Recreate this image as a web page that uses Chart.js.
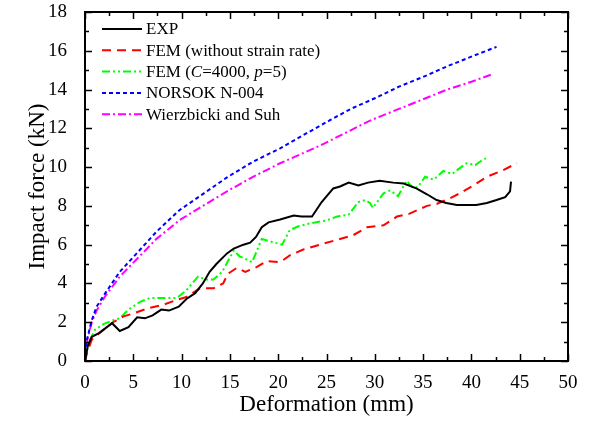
<!DOCTYPE html>
<html>
<head>
<meta charset="utf-8">
<script src="https://cdn.jsdelivr.net/npm/chart.js@4/dist/chart.umd.min.js"></script>
<style>
  html, body { margin: 0; padding: 0; background: #fff; }
  #wrap { width: 595px; height: 424px; }
</style>
</head>
<body>
<div id="wrap"><canvas id="chart"></canvas></div>
<script>
// values (deformation in mm, force in kN)
const expX = [0, 0.3, 0.7, 1.5, 2.8, 3.6, 4.5, 5.4, 6.2, 7.0, 7.9, 8.7, 9.7, 10.5, 11.4, 12.2, 12.9, 13.6, 14.7, 15.4, 16.4, 17.1, 17.7, 18.3, 19.0, 20.2, 21.6, 22.4, 23.5, 24.5, 25.7, 26.4, 27.3, 28.3, 29.3, 30.5, 31.9, 33.0, 34.3, 35.4, 36.4, 37.4, 38.5, 39.5, 40.5, 41.6, 42.6, 43.5, 44.0, 44.1];
const expY = [0, 0.8, 1.25, 1.45, 1.95, 1.55, 1.75, 2.25, 2.2, 2.35, 2.65, 2.6, 2.8, 3.2, 3.5, 4.0, 4.6, 5.0, 5.55, 5.8, 6.0, 6.1, 6.4, 6.9, 7.15, 7.3, 7.5, 7.45, 7.45, 8.2, 8.9, 9.0, 9.2, 9.05, 9.2, 9.3, 9.2, 9.15, 8.9, 8.6, 8.3, 8.15, 8.05, 8.05, 8.05, 8.15, 8.3, 8.45, 8.75, 9.25];

const femX = [0, 0.2, 0.7, 1.5, 2.9, 4.0, 5.0, 6.4, 8.1, 9.5, 10.5, 11.9, 13.3, 14.3, 14.8, 15.7, 16.6, 17.8, 18.8, 20.0, 20.5, 21.2, 22.6, 24.3, 26.1, 27.8, 29.2, 30.9, 32.3, 33.6, 35.4, 36.4, 37.8, 38.8, 40.2, 41.6, 43.3, 44.7];
const femY = [0, 0.4, 1.1, 1.45, 2.0, 2.3, 2.45, 2.7, 2.9, 3.15, 3.3, 3.75, 3.75, 4.0, 4.5, 4.8, 4.6, 4.85, 5.15, 5.1, 5.2, 5.45, 5.75, 6.0, 6.25, 6.5, 6.9, 7.0, 7.45, 7.6, 8.0, 8.1, 8.4, 8.65, 9.05, 9.5, 9.85, 10.2];

const femRateX = [0, 0.35, 1.0, 1.9, 2.9, 3.6, 4.5, 5.7, 6.7, 8.1, 9.5, 10.5, 11.7, 12.6, 13.3, 14.2, 15.4, 16.0, 17.3, 18.3, 19.3, 20.4, 21.2, 22.1, 23.3, 25.0, 26.1, 27.3, 28.3, 29.0, 29.5, 29.8, 30.9, 31.6, 32.4, 33.3, 34.0, 34.5, 35.2, 36.1, 37.1, 38.0, 38.8, 39.5, 40.4, 41.1, 41.5];
const femRateY = [0, 0.9, 1.6, 1.9, 2.1, 2.2, 2.65, 3.05, 3.25, 3.25, 3.25, 3.65, 4.35, 4.2, 4.2, 4.6, 5.7, 5.4, 5.1, 6.3, 6.15, 6.0, 6.75, 6.95, 7.1, 7.25, 7.45, 7.55, 8.2, 8.3, 8.15, 7.9, 8.65, 8.8, 8.5, 9.3, 8.9, 9.0, 9.5, 9.35, 9.8, 9.65, 9.95, 10.2, 10.1, 10.35, 10.45];

const norsokX = [0, 0.2, 0.7, 1.2, 2.1, 3.6, 5.35, 7.4, 9.8, 12.2, 14.7, 17.4, 20.2, 22.6, 25.4, 27.5, 30, 32.5, 35, 37.5, 40, 42.6];
const norsokY = [0, 1.1, 2.1, 2.8, 3.5, 4.6, 5.55, 6.67, 7.79, 8.61, 9.47, 10.28, 10.97, 11.65, 12.43, 13.0, 13.55, 14.15, 14.65, 15.2, 15.7, 16.2];

const wsX = [0, 0.2, 0.7, 1.2, 2.1, 3.6, 5.35, 7.4, 9.8, 12.2, 14.7, 17.4, 20.2, 24.3, 27.5, 29.5, 32.5, 35, 37.5, 40, 42.2];
const wsY = [0, 1.0, 2.0, 2.6, 3.35, 4.35, 5.25, 6.3, 7.27, 8.0, 8.75, 9.5, 10.2, 11.1, 11.9, 12.4, 13.0, 13.5, 14.0, 14.4, 14.8];

const xTicks = { min: 0, max: 50, major: 5, minor: 2.5 };
const yTicks = { min: 0, max: 18, major: 2, minor: 1 };

const SERIF = '"Liberation Serif", "Times New Roman", serif';

const pts = (xs, ys) => xs.map((x, i) => ({ x, y: ys[i] }));

const series = [
  { label: [['EXP', false]], xs: expX, ys: expY, color: '#000000', dash: [] },
  { label: [['FEM (without strain rate)', false]], xs: femX, ys: femY, color: '#ff0000', dash: [9, 6] },
  { label: [['FEM (', false], ['C', true], ['=4000, ', false], ['p', true], ['=5)', false]],
    xs: femRateX, ys: femRateY, color: '#00ff00', dash: [8, 3, 2, 3, 2, 3] },
  { label: [['NORSOK N-004', false]], xs: norsokX, ys: norsokY, color: '#0000ff', dash: [4, 3] },
  { label: [['Wierzbicki and Suh', false]], xs: wsX, ys: wsY, color: '#ff00ff', dash: [8, 3, 2, 3] }
];

// frame, inward ticks on all four sides, and the legend
const framePlugin = {
  id: 'frame',
  afterDatasetsDraw(chart) {
    const { ctx, chartArea: a, scales } = chart;
    ctx.save();
    ctx.strokeStyle = '#000';
    ctx.lineWidth = 1.5;
    for (let v = xTicks.min; v <= xTicks.max + 1e-9; v += xTicks.minor) {
      const px = Math.round(scales.x.getPixelForValue(v)) + 0.5;
      const len = Math.abs(v / xTicks.major - Math.round(v / xTicks.major)) < 1e-6 ? 7 : 4;
      ctx.beginPath();
      ctx.moveTo(px, a.bottom); ctx.lineTo(px, a.bottom - len);
      ctx.moveTo(px, a.top); ctx.lineTo(px, a.top + len);
      ctx.stroke();
    }
    for (let v = yTicks.min; v <= yTicks.max + 1e-9; v += yTicks.minor) {
      const py = Math.round(scales.y.getPixelForValue(v)) + 0.5;
      const len = Math.abs(v / yTicks.major - Math.round(v / yTicks.major)) < 1e-6 ? 7 : 4;
      ctx.beginPath();
      ctx.moveTo(a.left, py); ctx.lineTo(a.left + len, py);
      ctx.moveTo(a.right, py); ctx.lineTo(a.right - len, py);
      ctx.stroke();
    }
    ctx.lineWidth = 2;
    ctx.strokeRect(a.left, a.top, a.right - a.left, a.bottom - a.top);

    // legend
    ctx.textBaseline = 'middle';
    series.forEach((s, i) => {
      const y = a.top + 17 + i * 21.3;
      ctx.beginPath();
      ctx.strokeStyle = s.color;
      ctx.lineWidth = 2;
      ctx.setLineDash(s.dash);
      ctx.moveTo(a.left + 17, y);
      ctx.lineTo(a.left + 57, y);
      ctx.stroke();
      ctx.setLineDash([]);
      ctx.fillStyle = '#000';
      let tx = a.left + 61;
      s.label.forEach(([txt, it]) => {
        ctx.font = (it ? 'italic ' : '') + '17px ' + SERIF;
        ctx.fillText(txt, tx, y + 1);
        tx += ctx.measureText(txt).width;
      });
    });
    ctx.restore();
  }
};

new Chart(document.getElementById('chart'), {
  type: 'line',
  data: {
    datasets: series.map((s) => ({
      label: s.label.map((p) => p[0]).join(''),
      data: pts(s.xs, s.ys),
      borderColor: s.color,
      borderWidth: 2,
      borderDash: s.dash,
      pointRadius: 0,
      tension: 0,
      fill: false
    }))
  },
  options: {
    responsive: true,
    maintainAspectRatio: false,
    animation: false,
    layout: { padding: { left: 0, top: 12, right: 27, bottom: 0 } },
    plugins: {
      legend: { display: false },
      tooltip: { enabled: false }
    },
    scales: {
      x: {
        type: 'linear',
        min: xTicks.min,
        max: xTicks.max,
        grid: { display: false },
        border: { display: false },
        afterFit: (scale) => {
          scale.height = 63;
          scale.paddingLeft = 0;
          scale.paddingRight = 0;
        },
        ticks: {
          stepSize: xTicks.major,
          color: '#000',
          padding: 3,
          maxRotation: 0,
          font: { family: SERIF, size: 19 }
        },
        title: {
          display: true,
          text: 'Deformation (mm)',
          color: '#000',
          font: { family: SERIF, size: 23 },
          padding: { top: 0, bottom: 5 }
        }
      },
      y: {
        min: yTicks.min,
        max: yTicks.max,
        grid: { display: false },
        border: { display: false },
        afterFit: (scale) => {
          scale.width = 85;
          scale.paddingTop = 0;
          scale.paddingBottom = 0;
        },
        ticks: {
          stepSize: yTicks.major,
          color: '#000',
          padding: 10,
          font: { family: SERIF, size: 19 }
        },
        title: {
          display: true,
          text: 'Impact force (kN)',
          color: '#000',
          font: { family: SERIF, size: 23 },
          padding: { top: 24, bottom: 0 }
        }
      }
    }
  },
  plugins: [framePlugin]
});
</script>
</body>
</html>
